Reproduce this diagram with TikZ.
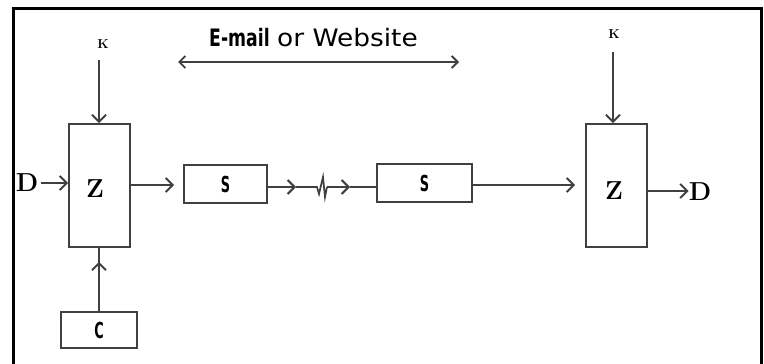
\documentclass[tikz,border=0pt]{standalone}
\usepackage{fontspec}
\usetikzlibrary{arrows.meta,decorations.markings}
\newfontfamily\sansf{DejaVu Sans}
\newfontfamily\condf{DejaVu Sans Condensed}
\begin{document}
\begin{tikzpicture}[x=1pt,y=-1pt,
  blk/.style={draw=black!75,line width=1.7pt,inner sep=0pt},
  conn/.style={draw=black!75,line width=1.7pt},
  tip/.tip={Straight Barb[length=7pt,width=14pt,line width=2pt]},
  stip/.tip={Straight Barb[length=6pt,width=12pt,line width=1.8pt]},
  arr/.style={conn,-tip},
  serifbig/.style={font=\bfseries\fontsize{26}{26}\selectfont,inner sep=0pt},
  klabel/.style={font=\bfseries\fontsize{13}{13}\selectfont,inner sep=0pt},
  boxlabel/.style={font=\condf\bfseries\fontsize{22}{22}\selectfont},
  midarrow/.style={postaction={decorate},decoration={markings,
     mark=at position #1 with {\arrow{tip}}}}
]
\useasboundingbox (0,0) rectangle (764,364);
% frame (open at bottom)
\draw[line width=3pt] (13.5,372) -- (13.5,8.5) -- (761.5,8.5) -- (761.5,372);

% heading
\node[anchor=base west,inner sep=0pt] (email) at (209,46)
  {\condf\bfseries\fontsize{24}{24}\selectfont\scalebox{0.8}[1]{E-mail}\ \sansf\mdseries\scalebox{1.1}[1]{or Website}};
\coordinate (ea1) at (178,62);
\coordinate (ea2) at (459,62);
\draw[conn,stip-stip] (ea1) -- (ea2);

% left block
\node[blk,minimum width=61,minimum height=123] (Zl) at (99.5,185.5) {};
\node[serifbig] (Zlt) at (95,188.5) {Z};
\node[serifbig] (Dl) at (27,182.5) {D};
\node[klabel] (Kl) at (103,44) {K};
\coordinate (kl0) at (99,60);
\draw[arr] (kl0) -- (kl0 |- Zl.north);
\draw[arr] (Dl.east |- 0,183) ++(3,0) -- (Zl.west |- 0,183);
\node[blk,minimum width=83,minimum height=38,boxlabel] (S1) at (225.5,184) {\scalebox{0.65}[1]{S}};
\draw[arr,shorten >=9pt] (Zl.east |- 0,185) -- (S1.west |- 0,185);
\node[blk,minimum width=76,minimum height=36,boxlabel] (C) at (99,330) {\scalebox{0.65}[1]{C}};
\draw[conn,midarrow=0.78] (C.north) -- (C.north |- Zl.south);

% link between S boxes
\node[blk,minimum width=95,minimum height=38,boxlabel] (S2) at (424.5,183) {\scalebox{0.65}[1]{S}};
\coordinate (m0) at (267,187);
\coordinate (m1) at (296,187);
\coordinate (z1) at (317,187);
\coordinate (z2) at (319,194);
\coordinate (z3) at (323,177);
\coordinate (z4) at (325,197);
\coordinate (z5) at (327,187);
\coordinate (m2) at (350,187);
\draw[arr] (S1.east |- m0) -- (m1);
\draw[conn] (m1) -- (z1) -- (z2) -- (z3) -- (z4) -- (z5);
\draw[arr] (z5) -- (m2);
\draw[conn] (m2) -- (S2.west |- m2);

% right block
\node[blk,minimum width=61,minimum height=123] (Zr) at (616.5,185.5) {};
\node[serifbig] (Zrt) at (614,191) {Z};
\node[serifbig] (Dr) at (700,192) {D};
\node[klabel] (Kr) at (614,34) {K};
\coordinate (kr0) at (613,52);
\draw[arr] (kr0) -- (kr0 |- Zr.north);
\draw[arr,shorten >=10pt] (S2.east |- 0,185) -- (Zr.west |- 0,185);
\draw[arr] (Zr.east |- 0,191) -- (Dr.west |- 0,191);
\end{tikzpicture}
\end{document}
